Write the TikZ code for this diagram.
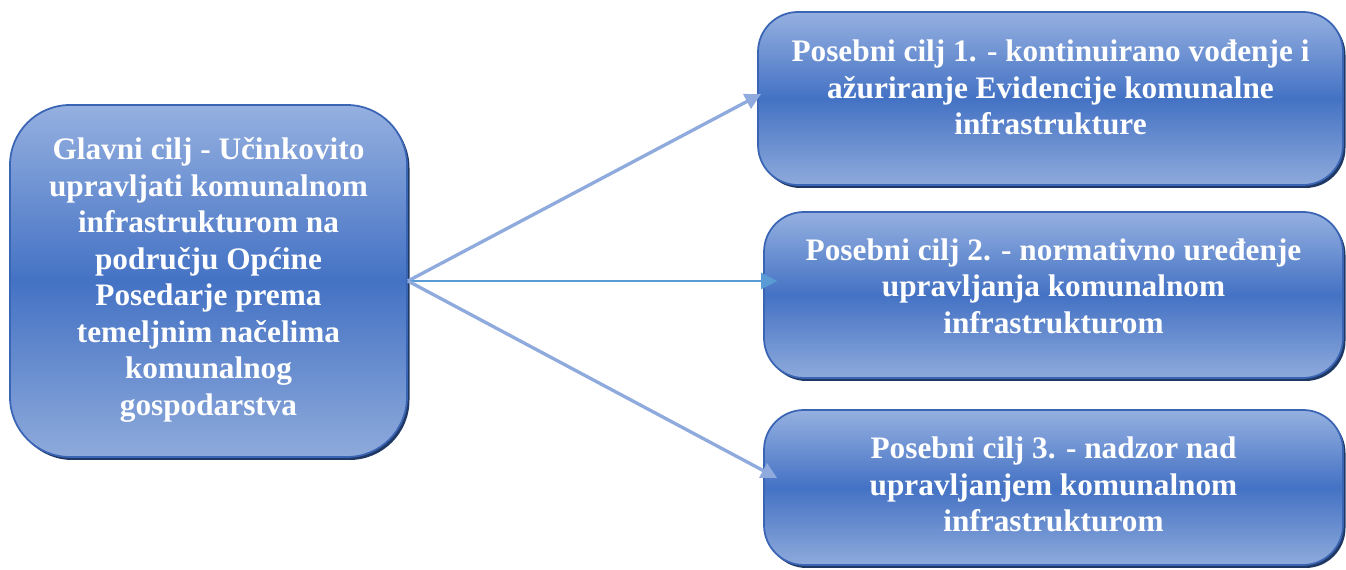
\documentclass[tikz,border=0pt]{standalone}
\usepackage{fontspec}
\setmainfont{Liberation Serif}
\usetikzlibrary{calc,arrows.meta,positioning,shadows}

\definecolor{ciljtop}{HTML}{95B0E0}
\definecolor{ciljmid}{HTML}{4472C4}
\definecolor{ciljbot}{HTML}{8EAADB}
\definecolor{ciljrub}{HTML}{3A64B4}
\definecolor{ciljsjena}{HTML}{1F3864}
\definecolor{strelica}{HTML}{8FAADC}
\definecolor{strelicasr}{HTML}{5B9BD5}

\begin{document}
\begin{tikzpicture}[
		cilj/.style={draw=ciljrub, line width=1pt, top color=ciljtop, bottom color=ciljbot, middle color=ciljmid,
			drop shadow={shadow xshift=0.05cm, shadow yshift=-0.06cm, fill=ciljsjena, opacity=1}},
		tekst/.style={text=white, align=center, font=\fontsize{17.8}{20.8}\selectfont\bfseries},
		veza/.style={line width=1.9pt, draw=strelica, -{Triangle[length=0.32cm, width=0.32cm]}}
	]
	\useasboundingbox (0,0) rectangle (26.92,11.40);

	% Glavni cilj
	\node[cilj, rounded corners=1.2cm, minimum width=7.94cm, minimum height=7.04cm] (glavni) at (4.17,5.78) {};
	\node[tekst] (glavnitekst) at ([yshift=0.02cm]glavni.center) {Glavni cilj - Učinkovito\\upravljati komunalnom\\infrastrukturom na\\području Općine\\Posedarje prema\\temeljnim načelima\\komunalnog\\gospodarstva};

	% Posebni ciljevi
	\node[cilj, rounded corners=0.8cm, minimum width=11.7cm, minimum height=3.46cm] (p1) at (21.01,9.43) {};
	\node[tekst] (p1tekst) at ([yshift=0.22cm]p1.center) {Posebni cilj 1. - kontinuirano vođenje i\\ažuriranje Evidencije komunalne\\infrastrukture};

	\node[cilj, rounded corners=0.8cm, minimum width=11.58cm, minimum height=3.32cm] (p2) at (21.07,5.50) {};
	\node[tekst] (p2tekst) at ([yshift=0.18cm]p2.center) {Posebni cilj 2. - normativno uređenje\\upravljanja komunalnom\\infrastrukturom};

	\node[cilj, rounded corners=0.8cm, minimum width=11.58cm, minimum height=3.10cm] (p3) at (21.07,1.65) {};
	\node[tekst] (p3tekst) at ([yshift=0.06cm]p3.center) {Posebni cilj 3. - nadzor nad\\upravljanjem komunalnom\\infrastrukturom};

	% Strelice
	\coordinate (vrh1) at ([xshift=0.08cm, yshift=0.09cm]p1.west);
	\coordinate (vrh2) at ([xshift=0.28cm]p2.west |- glavni.east);
	\coordinate (vrh3) at ([xshift=0.28cm, yshift=0.19cm]p3.west);
	\draw[veza] (glavni.east) -- (vrh1);
	\draw[veza, draw=strelicasr, line width=1.4pt] (glavni.east) -- (vrh2);
	\draw[veza] (glavni.east) -- (vrh3);
\end{tikzpicture}
\end{document}
